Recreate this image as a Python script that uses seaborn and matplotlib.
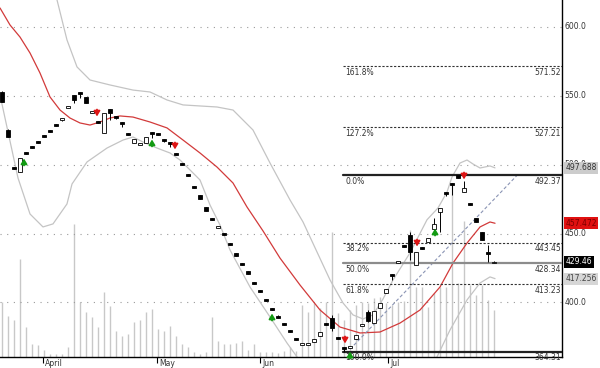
import matplotlib
matplotlib.use("Agg")
import matplotlib.pyplot as plt
import seaborn as sns

OUTPUT_FILE = "out.png"

# candles (index 0..82), prices
opens = [552.8, 525.2, 498.2, 494.7, 509.1, 513.5, 517.1, 521.4, 525.1, 529.4,
         532.2, 541.2, 550.6, 552.6, 549.2, 537.5, 531.6, 523.0, 540.5, 535.2,
         530.9, 523.0, 515.8, 514.3, 515.8, 523.7, 523.0, 518.5, 516.4, 508.4,
         501.1, 493.1, 484.4, 478.0, 469.3, 461.2, 454.0, 450.4, 443.1, 435.9,
         428.5, 422.8, 414.7, 408.9, 402.5, 395.8, 390.2, 385.1, 380.0, 374.2,
         369.1, 369.1, 371.3, 375.6, 384.9, 388.7, 374.8, 367.5, 367.0, 373.4,
         382.9, 393.0, 385.1, 396.0, 406.8, 420.5, 428.6, 441.5, 448.9, 427.2,
         440.1, 443.9, 453.3, 465.7, 480.1, 486.6, 492.2, 480.2, 472.2, 461.3,
         451.1, 436.5, 428.8]
highs = [553.2, 525.6, 498.4, 505.2, 509.3, 513.7, 517.3, 521.6, 525.3, 529.6,
         534.2, 542.8, 550.9, 552.8, 549.5, 539.3, 531.8, 537.8, 540.8, 535.4,
         531.1, 523.3, 519.0, 516.1, 520.4, 524.0, 523.2, 518.9, 516.6, 508.6,
         501.3, 493.3, 484.6, 478.3, 469.6, 461.4, 455.8, 450.7, 443.4, 436.2,
         428.7, 423.1, 414.9, 409.1, 402.8, 396.0, 390.5, 385.4, 380.3, 374.5,
         370.8, 370.8, 373.7, 378.8, 385.1, 390.9, 375.0, 367.7, 368.6, 376.6,
         384.6, 394.5, 394.1, 399.9, 410.0, 420.7, 430.3, 441.7, 451.1, 436.9,
         440.3, 447.1, 461.3, 468.9, 480.3, 486.8, 492.37, 488.2, 472.5, 461.6,
         451.4, 441.7, 429.8]
lows = [545.2, 519.8, 496.8, 494.4, 507.7, 512.1, 515.7, 520.0, 523.7, 528.0,
        532.0, 541.0, 544.8, 548.4, 544.6, 537.3, 530.2, 522.7, 532.5, 533.0,
        527.4, 521.3, 515.5, 514.0, 515.5, 519.4, 521.4, 516.5, 512.9, 507.0,
        499.7, 491.7, 483.0, 474.8, 466.1, 459.8, 453.8, 448.6, 441.4, 433.4,
        427.1, 420.3, 413.3, 407.5, 400.8, 394.4, 388.5, 383.4, 378.3, 372.5,
        368.9, 368.9, 371.0, 375.3, 383.5, 379.3, 373.4, 364.31, 366.8, 373.1,
        382.6, 385.5, 384.8, 395.7, 406.5, 416.3, 428.4, 440.1, 430.8, 426.9,
        438.7, 443.6, 453.0, 451.1, 477.5, 478.0, 490.0, 479.9, 470.7, 458.1,
        445.0, 429.3, 428.5]
closes = [545.5, 520.1, 497.0, 504.9, 507.9, 512.3, 515.9, 520.2, 523.9, 528.2,
          533.9, 542.6, 547.0, 551.6, 544.8, 539.0, 530.4, 537.5, 537.5, 534.0,
          529.7, 521.6, 518.7, 515.8, 520.1, 522.3, 521.6, 517.3, 515.2, 507.2,
          499.9, 491.9, 483.2, 475.1, 466.4, 460.0, 455.5, 448.9, 441.7, 433.7,
          427.3, 420.6, 413.5, 407.7, 401.1, 394.6, 388.8, 383.7, 378.6, 372.8,
          370.5, 370.5, 373.4, 378.5, 383.7, 381.4, 373.6, 366.3, 368.3, 376.3,
          384.3, 386.5, 393.8, 399.6, 409.7, 419.3, 430.0, 440.3, 436.6, 436.6,
          438.9, 446.8, 456.9, 468.6, 478.9, 485.4, 490.3, 483.1, 471.0, 458.4,
          445.3, 435.3, 429.46]

volume = [55, 41, 37, 98, 30, 13, 12, 7, 3, 3, 3, 10, 133, 55, 45, 40, 30, 65,
          51, 26, 21, 23, 35, 37, 45, 48, 28, 26, 31, 21, 13, 10, 5, 3, 5, 40,
          16, 13, 13, 14, 16, 7, 13, 5, 5, 5, 4, 6, 10, 6, 52, 45, 54, 49, 55,
          125, 44, 37, 47, 52, 55, 54, 59, 60, 54, 52, 55, 56, 127, 70, 70, 50,
          64, 70, 70, 173, 74, 136, 72, 62, 72, 57, 47]

# moving average and bands (index, price)
ma_idx = [-0.33, 1.33, 3.0, 4.67, 6.33, 8.0, 9.67, 11.33, 13.0, 14.67, 16.33,
          18.0, 19.67, 21.83, 24.67, 27.5, 30.17, 33.0, 35.83, 38.5, 40.83,
          43.5, 46.33, 49.67, 53.0, 56.33, 59.67, 63.0, 66.33, 69.67, 73.0,
          75.17, 77.5, 79.67, 81.33, 82.17]
ma_val = [613.8, 601.5, 592.7, 581.1, 566.6, 549.2, 539.7, 533.9, 530.3, 528.8,
          531.0, 533.9, 535.4, 534.6, 531.0, 526.7, 517.9, 508.5, 498.3, 486.7,
          469.3, 451.9, 432.2, 412.6, 394.5, 382.1, 377.8, 378.5, 385.0, 394.5,
          411.2, 428.6, 443.1, 454.8, 458.4, 457.472]
upper_idx = [8.33, 9.17, 10.83, 12.5, 14.67, 18.0, 21.83, 24.67, 27.5, 30.17,
             35.83, 38.5, 41.83, 44.67, 48.0, 50.17, 54.67, 56.83, 58.5, 60.17,
             61.83, 63.5, 65.17, 68.0, 70.83, 72.67, 74.17, 75.0, 76.33, 77.5,
             78.5, 79.67, 81.33, 82.17]
upper_val = [630.9, 619.6, 590.6, 571.0, 561.5, 557.9, 554.2, 552.8, 547.0,
             543.4, 541.9, 539.7, 525.2, 501.2, 474.4, 458.4, 416.3, 399.6,
             390.9, 388.0, 390.9, 402.5, 416.3, 436.0, 460.0, 468.6, 480.2,
             491.1, 501.2, 503.4, 500.5, 497.6, 499.1, 497.688]
lower_idx = [-0.33, 2.67, 4.67, 6.83, 8.5, 10.83, 11.67, 14.17, 17.5, 20.17,
             21.83, 23.5, 25.83, 28.0, 29.67, 31.33, 33.0, 34.67, 36.33, 38.0,
             41.33, 44.67, 47.5, 49.17, 50.5, 54.67, 63.0, 68.0, 70.5, 72.5,
             74.67, 77.5, 79.67, 81.33, 82.17]
lower_val = [550.6, 490.3, 464.2, 454.8, 457.0, 471.5, 486.0, 502.0, 512.1,
             517.9, 520.1, 516.5, 512.1, 508.5, 503.4, 496.2, 488.9, 470.7,
             456.2, 438.1, 411.2, 389.4, 370.5, 360.4, 349.5, 329.0, 322.0,
             333.0, 349.5, 360.4, 380.0, 401.8, 414.1, 418.5, 417.256]

trend_idx = [58.0, 86.0]
trend_val = [366.0, 493.0]

# fibonacci levels
fib_labels = ["161.8%", "127.2%", "0.0%", "38.2%", "50.0%", "61.8%", "100.0%"]
fib_values = [571.52, 527.21, 492.37, 443.45, 428.34, 413.23, 364.31]
fib_styles = ["dash", "dash", "solid", "dash", "grey", "dash", "solid"]

grid_levels = [600.0, 550.0, 500.0, 450.0, 400.0]

# signal arrows
up_idx = [3.67, 25.0, 45.0, 58.0, 72.17]
up_val = [502.0, 515.8, 389.4, 361.8, 451.1]
down_idx = [15.83, 28.83, 57.17, 69.17, 77.0]
down_val = [537.5, 513.6, 372.7, 443.1, 491.8]

month_labels = ["April", "May", "Jun", "Jul"]
month_pos = [6.8, 25.8, 43.0, 64.3]

tags = [(497.688, "#cccccc", "#333333"), (457.472, "#e01010", "#7a0000"),
        (429.46, "#000000", "#ffffff"), (417.256, "#d6d6d6", "#444444")]

sns.set_style("white")
plt.rcParams["font.family"] = ["DejaVu Sans"]

fig = plt.figure(figsize=(6, 3.68), dpi=100)
ax = fig.add_axes([0, 11 / 368, 562 / 600, 357 / 368])
ax2 = ax.twinx()

# volume behind everything
idx = list(range(len(opens)))
ax2.vlines(idx, 0, volume, color="#c8c8c8", lw=1)
ax2.set_ylim(0, 357)
ax2.set_yticks([])
for s in ax2.spines.values():
    s.set_visible(False)
ax.set_zorder(ax2.get_zorder() + 1)
ax.patch.set_visible(False)

ax.set_xlim(-1 / 3, 93.33)
ax.set_ylim(360.35, 619.6)

for g in grid_levels:
    ax.axhline(g, color="#9a9a9a", lw=0.8, ls=(0, (1, 5)), zorder=1)
    if g != 500.0:
        ax.text(1.005, g, f"{g:.1f}", transform=ax.get_yaxis_transform(),
                ha="left", va="center", fontsize=5.5, color="#333333")
ax.text(1.005, 500.0, "500.0", transform=ax.get_yaxis_transform(),
        ha="left", va="center", fontsize=5.5, color="#333333")

# bands and moving average
sns.lineplot(x=upper_idx, y=upper_val, ax=ax, color="#c4c4c4", lw=0.9, sort=False, zorder=2)
sns.lineplot(x=lower_idx, y=lower_val, ax=ax, color="#c4c4c4", lw=0.9, sort=False, zorder=2)
sns.lineplot(x=ma_idx, y=ma_val, ax=ax, color="#d23a3a", lw=0.9, sort=False, zorder=3)
sns.lineplot(x=trend_idx, y=trend_val, ax=ax, color="#8a94b4", lw=0.8,
             linestyle=(0, (3, 2)), sort=False, zorder=3)

# fib lines
fib_x0 = 343 / 562
for lab, val, st in zip(fib_labels, fib_values, fib_styles):
    if st == "solid":
        ax.axhline(val, xmin=fib_x0, color="#222222", lw=1.6, zorder=3)
    elif st == "grey":
        ax.axhline(val, xmin=fib_x0, color="#8c8c8c", lw=1.6, zorder=3)
    else:
        ax.axhline(val, xmin=fib_x0, color="#333333", lw=0.8, ls=(0, (2, 1.5)), zorder=3)
    ax.annotate(lab, (fib_x0 + 0.004, val), xycoords=ax.get_yaxis_transform(),
                xytext=(0, -1), textcoords="offset points", ha="left", va="top",
                fontsize=5.5, color="#333333")
    ax.annotate(f"{val:.2f}", (0.998, val), xycoords=ax.get_yaxis_transform(),
                xytext=(0, -1), textcoords="offset points", ha="right", va="top",
                fontsize=5.5, color="#333333")

# candles
body_bottom = [min(o, c) for o, c in zip(opens, closes)]
body_height = [abs(c - o) for o, c in zip(opens, closes)]
fills = ["white" if c > o else "black" for o, c in zip(opens, closes)]
ax.vlines(idx, lows, highs, color="black", lw=0.7, zorder=4)
ax.bar(idx, body_height, bottom=body_bottom, width=0.8, color=fills,
       edgecolor="black", linewidth=0.6, zorder=5)

# signal arrows
for i, p in zip(up_idx, up_val):
    ax.annotate("", xy=(i, p + 2.5), xytext=(0, -5), textcoords="offset points",
                arrowprops=dict(arrowstyle="-|>,head_length=0.5,head_width=0.3",
                                color="#129a12", lw=1.3, shrinkA=0, shrinkB=0,
                                mutation_scale=6), zorder=6)
for i, p in zip(down_idx, down_val):
    ax.annotate("", xy=(i, p - 2.5), xytext=(0, 5), textcoords="offset points",
                arrowprops=dict(arrowstyle="-|>,head_length=0.5,head_width=0.3",
                                color="#dd1515", lw=1.3, shrinkA=0, shrinkB=0,
                                mutation_scale=6), zorder=6)

# right side value tags
for val, bg, fg in tags:
    ax.text(1.006, val, f"{val:g}", transform=ax.get_yaxis_transform(),
            ha="left", va="center", fontsize=5.5, color=fg, zorder=10,
            bbox=dict(boxstyle="square,pad=0.2", fc=bg, ec="none"))

# axes frame and month ticks
for side in ["top", "left"]:
    ax.spines[side].set_visible(False)
for side in ["right", "bottom"]:
    ax.spines[side].set_visible(True)
    ax.spines[side].set_color("black")
    ax.spines[side].set_linewidth(1.0)
ax.set_yticks([])
ax.set_xticks(month_pos)
ax.set_xticklabels([])
ax.tick_params(axis="x", direction="out", length=4, width=0.8, color="black", bottom=True)
for lab, pos in zip(month_labels, month_pos):
    ax.text(pos + 0.35, -0.006, lab, transform=ax.get_xaxis_transform(),
            ha="left", va="top", fontsize=5.5, color="#333333")
ax.set_xlabel("")
ax.set_ylabel("")
ax.grid(False)

fig.savefig(OUTPUT_FILE, dpi=100)
